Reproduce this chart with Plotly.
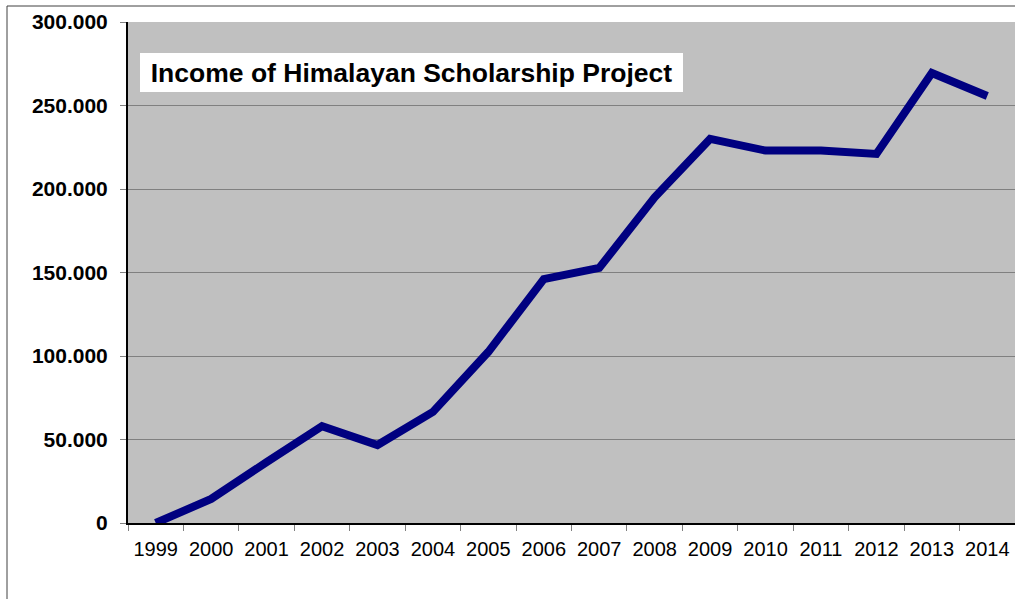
import plotly.graph_objects as go

# income per year
years = ["1999", "2000", "2001", "2002", "2003", "2004", "2005", "2006",
         "2007", "2008", "2009", "2010", "2011", "2012", "2013", "2014"]
income = [0, 14400, 36500, 58000, 46700, 66500, 102500, 146000,
          152700, 195000, 230000, 223000, 223000, 221000, 269500, 255700]
y_ticks = [0, 50000, 100000, 150000, 200000, 250000, 300000]

title_text = "Income of Himalayan Scholarship Project"

FONT = "Arial, Liberation Sans, sans-serif"

fig = go.Figure()

fig.add_trace(
    go.Scatter(x=years,
               y=income,
               mode="lines",
               line=dict(color="#000080", width=8),
               hoverinfo="x+y")
)

fig.update_layout(
    width=1015, height=599,
    margin=dict(l=128, r=0, t=22, b=76),
    paper_bgcolor="white",
    plot_bgcolor="#C0C0C0",
    separators=",.",
    showlegend=False,
    font=dict(family=FONT, color="black"),
)

fig.update_xaxes(
    type="category",
    range=[-0.5, 15.5],
    showgrid=False,
    showline=True, linecolor="black", linewidth=2,
    ticks="outside", tickson="boundaries", ticklen=6, tickcolor="#808080",
    ticklabelstandoff=7,
    tickfont=dict(size=20, family=FONT, color="black"),
)

fig.update_yaxes(
    range=[0, 300000],
    tickvals=y_ticks,
    tickformat=",d",
    showgrid=True, gridcolor="#808080", gridwidth=1,
    showline=True, linecolor="black", linewidth=2,
    ticks="outside", ticklen=6, tickcolor="#808080",
    ticklabelstandoff=8,
    tickfont=dict(size=21, family=FONT, color="black", weight="bold"),
    zeroline=False,
)

# outer chart border (right and bottom edges fall outside the window)
fig.add_shape(type="rect", xref="paper", yref="paper",
              x0=(7 - 128) / 887, x1=1.2, y0=-0.3, y1=(523 - 6) / 501,
              line=dict(color="#404040", width=1), fillcolor="rgba(0,0,0,0)",
              layer="below")

# title box inside the plot
fig.add_annotation(
    text="<b>" + title_text + "</b>",
    xref="paper", yref="paper",
    x=(140 - 128) / 887, y=(523 - 53) / 501,
    xanchor="left", yanchor="top",
    showarrow=False,
    width=533, height=29,
    bgcolor="white", borderpad=4, borderwidth=1, bordercolor="white",
    font=dict(size=26.5, family=FONT, color="black"),
)

fig.write_html("out.html", config={"displayModeBar": False},
               post_script="document.body.style.margin='0';")
